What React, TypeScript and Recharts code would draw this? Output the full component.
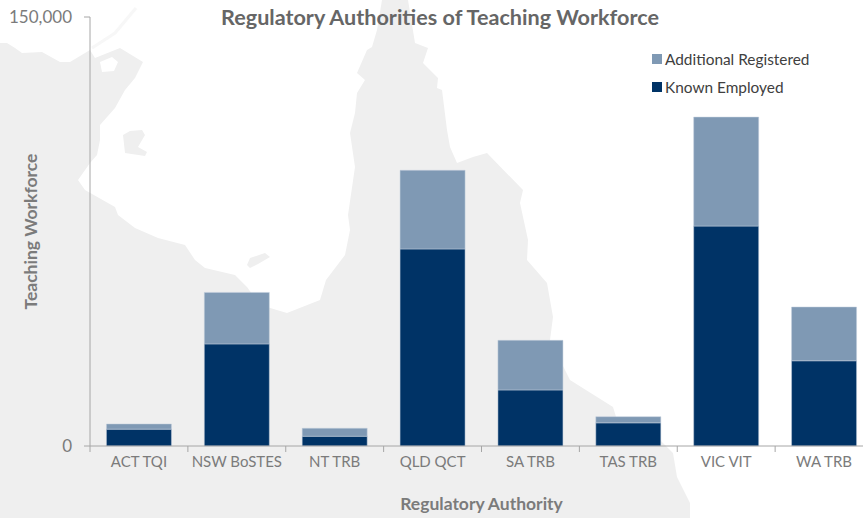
import React from 'react';
import { BarChart, Bar, XAxis, YAxis, Legend } from 'recharts';

const categories = ['ACT TQI', 'NSW BoSTES', 'NT TRB', 'QLD QCT', 'SA TRB', 'TAS TRB', 'VIC VIT', 'WA TRB'];
const knownEmployed = [5900, 35700, 3400, 68900, 19600, 8100, 76900, 29800];
const additionalRegistered = [1800, 18000, 2800, 27500, 17350, 2150, 38100, 18800];
const yTicks = [0, 150000];

const chartData = categories.map((name, i) => ({
  name,
  known: knownEmployed[i],
  additional: additionalRegistered[i],
}));

const FONT = 'Lato, sans-serif';
const GREY = '#7b7b7b';
const AXIS = '#a6a6a6';
const BAND = 97.85;

// faint map of north-east Australia behind the plot
const LAND = 'M0 43 L7 43 L15 48 L22 53 L42 52 L60 62 L70 62 L90 50 L95 58 L120 48 L143 62 L135 78 L125 90 L115 108 L100 125 L100 140 L97 155 L90 163 L78 180 L85 190 L115 207 L118 215 L135 228 L158 238 L185 245 L195 260 L205 268 L235 275 L247 287 L260 305 L287 313 L320 300 L326 280 L345 255 L350 230 L348 215 L355 167 L350 133 L355 113 L357 93 L365 80 L357 73 L367 50 L372 47 L377 30 L382 0 L408 0 L415 43 L428 48 L423 63 L438 78 L437 88 L442 90 L447 130 L450 147 L457 163 L473 157 L487 153 L523 190 L520 203 L528 240 L527 260 L547 283 L553 317 L550 340 L570 380 L613 407 L617 420 L660 440 L673 453 L677 477 L690 503 L690 518 L0 518 Z';
const ISLANDS = 'M123 135 L130 131 L142 130 L145 135 L138 147 L147 152 L145 156 L125 153 Z M247 265 L250 258 L265 253 L270 257 L258 264 L250 268 Z';
const INLET = 'M100 62 L112 57 L118 62 L114 71 L102 72 Z';

const CategoryTick = ({ x, y, payload }: any) => (
  <g>
    <line x1={x - BAND / 2} x2={x - BAND / 2} y1={y - 8} y2={y - 2} stroke={AXIS} />
    <text x={x} y={y + 13} textAnchor="middle" fill={GREY} fontSize={15} fontFamily={FONT}>
      {payload.value}
    </text>
  </g>
);

const LegendList = () => (
  <div style={{ fontFamily: FONT, fontSize: 15.4, color: '#404040', lineHeight: '28px' }}>
    {[['Additional Registered', '#7f99b4'], ['Known Employed', '#003366']].map(([label, color]) => (
      <div key={label} style={{ display: 'flex', alignItems: 'center' }}>
        <span style={{ width: 10, height: 10, background: color, marginRight: 3 }} />
        {label}
      </div>
    ))}
  </div>
);

export default function App() {
  return (
    <div style={{ position: 'absolute', left: 0, top: 0, width: 863, height: 518, overflow: 'hidden', background: '#fff' }}>
      <svg width={863} height={518} style={{ position: 'absolute', left: 0, top: 0 }}>
        <path d={LAND} fill="#efefef" />
        <path d={ISLANDS} fill="#efefef" />
        <path d={INLET} fill="#ffffff" />
        <path d="M92 48 L115 33 L136 8" stroke="#f7f7f7" strokeWidth={3} fill="none" />
      </svg>
      <div style={{ position: 'absolute', left: 0, top: 0 }}>
        <BarChart
          width={863}
          height={518}
          data={chartData}
          barCategoryGap="16.8%"
          margin={{ top: 17, right: -10, bottom: 0, left: 0 }}
        >
          <text x={440} y={25} textAnchor="middle" fill="#666666" fontSize={21.6} fontWeight={700} fontFamily={FONT}>
            Regulatory Authorities of Teaching Workforce
          </text>
          <XAxis
            dataKey="name"
            interval={0}
            height={72}
            tickLine={false}
            tick={<CategoryTick />}
            axisLine={{ stroke: AXIS }}
            label={{ value: 'Regulatory Authority', position: 'insideBottom', dy: -3, fill: GREY, fontSize: 17.5, fontWeight: 700, fontFamily: FONT }}
          />
          <YAxis
            type="number"
            domain={[0, 150000]}
            ticks={yTicks}
            width={90}
            tickSize={6}
            tickMargin={12}
            tickLine={{ stroke: AXIS }}
            axisLine={{ stroke: AXIS }}
            tick={{ fill: GREY, fontSize: 17, fontFamily: FONT }}
            tickFormatter={(v: number) => v.toLocaleString('en-US')}
            label={{ value: 'Teaching Workforce', angle: -90, position: 'center', dx: -14, fill: GREY, fontSize: 17.5, fontWeight: 700, fontFamily: FONT }}
          />
          <Legend
            layout="vertical"
            align="center"
            verticalAlign="middle"
            content={<LegendList />}
            wrapperStyle={{ position: 'absolute', left: 652, top: 45, width: 190 }}
          />
          <Bar dataKey="known" stackId="a" fill="#003366" stroke="#c3cfdd" strokeWidth={0.5} isAnimationActive={false} />
          <Bar dataKey="additional" stackId="a" fill="#7f99b4" stroke="#c3cfdd" strokeWidth={0.5} isAnimationActive={false} />
        </BarChart>
      </div>
    </div>
  );
}
